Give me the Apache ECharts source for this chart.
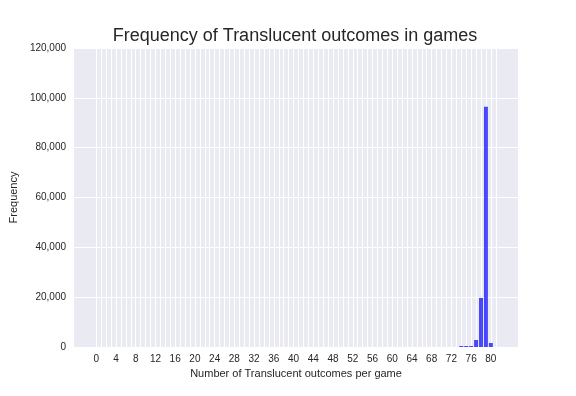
<!DOCTYPE html>
<html><head><meta charset="utf-8">
<script src="https://cdn.jsdelivr.net/npm/echarts@6/dist/echarts.min.js"></script>
<style>html,body{margin:0;padding:0;background:#fff}#c{width:576px;height:396px}</style>
</head><body><div id="c"></div>
<script>
// categories -4..85 give matplotlib-like margins; bars at 0..81
const categories = [];
for (let k = -4; k <= 85; k++) categories.push(k);
const outcomeValues = [74, 75, 76, 77, 78, 79, 80];
const frequencies = [400, 400, 400, 2800, 19700, 96400, 1600];
const xTickLabels = [0,4,8,12,16,20,24,28,32,36,40,44,48,52,56,60,64,68,72,76,80];
const yTickValues = [0,20000,40000,60000,80000,100000,120000];

const freqMap = {};
outcomeValues.forEach((v, i) => freqMap[v] = frequencies[i]);
const seriesData = categories.map(c => (freqMap[c] !== undefined ? freqMap[c] : null));

const chart = echarts.init(document.getElementById('c'), null, {renderer: 'canvas'});
const font = 'Liberation Sans, Arial, sans-serif';
chart.setOption({
  animation: false,
  backgroundColor: '#ffffff',
  title: {
    text: 'Frequency of Translucent outcomes in games',
    left: 290, top: 22, textAlign: 'center',
    textStyle: {fontFamily: font, fontSize: 18, fontWeight: 'normal', color: '#262626'}
  },
  grid: {left: 71, right: 58, top: 48, bottom: 49, show: true, backgroundColor: '#EAEAF2', borderWidth: 0},
  xAxis: {
    type: 'category',
    data: categories,
    boundaryGap: true,
    name: 'Number of Translucent outcomes per game',
    nameLocation: 'middle', nameGap: 17,
    nameTextStyle: {fontFamily: font, fontSize: 11, color: '#262626'},
    axisLine: {show: false},
    axisTick: {show: false},
    axisLabel: {
      fontFamily: font, fontSize: 10, color: '#262626', margin: 7,
      interval: (idx, val) => xTickLabels.indexOf(Number(val)) >= 0
    },
    splitLine: {
      show: true, alignWithLabel: true,
      interval: (idx, val) => Number(val) >= 0 && Number(val) <= 81,
      lineStyle: {color: '#ffffff', width: 1}
    }
  },
  yAxis: {
    type: 'value',
    min: 0, max: 120000, interval: 20000,
    name: 'Frequency',
    nameLocation: 'middle', nameGap: 45,
    nameTextStyle: {fontFamily: font, fontSize: 11, color: '#262626'},
    axisLine: {show: false},
    axisTick: {show: false},
    axisLabel: {
      fontFamily: font, fontSize: 10, color: '#262626', margin: 8,
      formatter: v => v.toLocaleString('en-US')
    },
    splitLine: {show: true, lineStyle: {color: '#ffffff', width: 1}}
  },
  series: [{
    type: 'bar',
    data: seriesData,
    barWidth: '80%',
    itemStyle: {color: 'rgba(0,0,255,0.7)'}
  }]
});
</script></body></html>
